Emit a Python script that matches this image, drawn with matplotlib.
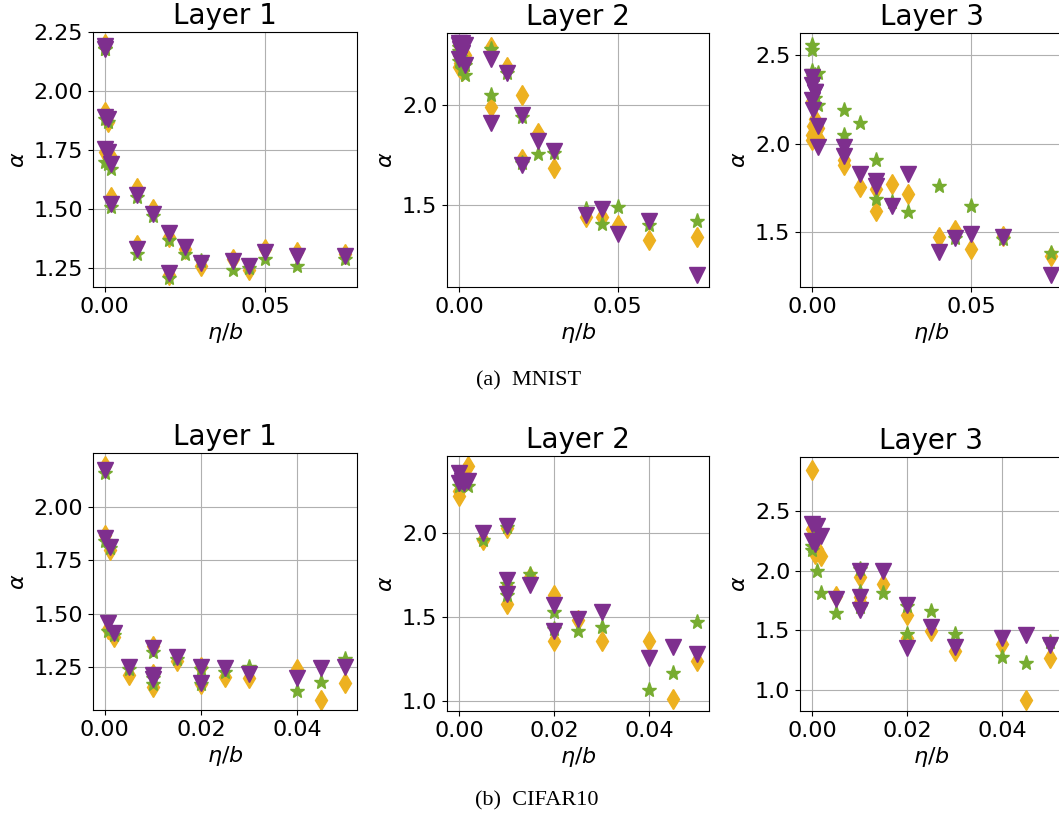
import matplotlib
matplotlib.use('Agg')
import matplotlib.pyplot as plt

# eta/b values of the runs
x_mnist = [0.0, 0.0, 0.0, 0.0002, 0.001, 0.001, 0.002, 0.002,
           0.01, 0.01, 0.015, 0.02, 0.02, 0.025, 0.03, 0.04, 0.045, 0.05, 0.06, 0.075]
x_cifar = [0.0, 0.0, 0.001, 0.0007, 0.002,
           0.005, 0.01, 0.01, 0.01, 0.015, 0.02, 0.02, 0.025, 0.03, 0.04, 0.045, 0.05]

# alpha values, mnist
mnist_l1_dia = [2.20, 1.91, 1.74, 2.19, 1.87, 1.72, 1.72, 1.55,
                1.59, 1.35, 1.50, 1.38, 1.22, 1.33, 1.26, 1.29, 1.24, 1.33, 1.32, 1.31]
mnist_l1_star = [2.18, 1.88, 1.70, 2.18, 1.87, 1.69, 1.67, 1.51,
                 1.55, 1.31, 1.47, 1.37, 1.21, 1.31, 1.28, 1.24, 1.25, 1.29, 1.26, 1.29]
mnist_l1_tri = [2.19, 1.89, 1.755, 2.18, 1.88, 1.74, 1.69, 1.52,
                1.56, 1.33, 1.48, 1.40, 1.23, 1.34, 1.27, 1.28, 1.26, 1.32, 1.30, 1.30]

mnist_l2_dia = [2.30, 2.19, 2.25, 2.21, 2.28, 2.17, 2.25, 2.22,
                2.29, 1.99, 2.19, 2.05, 1.73, 1.86, 1.685, 1.44, 1.44, 1.40, 1.325, 1.34]
mnist_l2_star = [2.29, 2.22, 2.27, 2.24, 2.28, 2.18, 2.20, 2.15,
                 2.28, 2.05, 2.16, 1.94, 1.71, 1.755, 1.76, 1.48, 1.405, 1.49, 1.40, 1.42]
mnist_l2_tri = [2.31, 2.23, 2.30, 2.28, 2.31, 2.26, 2.30, 2.20,
                2.23, 1.91, 2.16, 1.95, 1.70, 1.82, 1.77, 1.45, 1.48, 1.355, 1.42, 1.15]

mnist_l3_dia = [2.24, 2.05, 2.02, 2.10, 2.07, 2.14, 2.09, 2.03,
                1.91, 1.877, 1.755, 1.745, 1.62, 1.77, 1.717, 1.475, 1.51, 1.406, 1.48, 1.368]
mnist_l3_star = [2.56, 2.53, 2.41, 2.38, 2.39, 2.26, 2.40, 2.22,
                 2.19, 2.05, 2.117, 1.906, 1.685, 1.67, 1.613, 1.76, 1.468, 1.647, 1.46, 1.38]
mnist_l3_tri = [2.38, 2.33, 2.25, 2.19, 2.29, 2.29, 2.10, 1.98,
                1.98, 1.93, 1.83, 1.79, 1.76, 1.65, 1.83, 1.387, 1.468, 1.49, 1.475, 1.258]

# alpha values, cifar10
cifar_l1_dia = [2.19, 1.87, 1.80, 1.43, 1.39,
                1.214, 1.35, 1.22, 1.16, 1.28, 1.25, 1.17, 1.206, 1.20, 1.24, 1.097, 1.175]
cifar_l1_star = [2.16, 1.84, 1.81, 1.42, 1.40,
                 1.24, 1.32, 1.20, 1.17, 1.29, 1.24, 1.17, 1.23, 1.253, 1.14, 1.18, 1.29]
cifar_l1_tri = [2.175, 1.855, 1.815, 1.455, 1.41,
                1.25, 1.34, 1.215, 1.195, 1.30, 1.253, 1.175, 1.245, 1.22, 1.198, 1.245, 1.253]

cifar_l2_dia = [2.25, 2.22, 2.36, 2.30, 2.40,
                1.96, 2.03, 1.68, 1.58, 1.74, 1.63, 1.36, 1.48, 1.36, 1.36, 1.01, 1.24]
cifar_l2_star = [2.33, 2.28, 2.30, 2.29, 2.28,
                 1.96, 2.04, 1.70, 1.63, 1.76, 1.53, 1.43, 1.42, 1.44, 1.066, 1.165, 1.47]
cifar_l2_tri = [2.36, 2.30, 2.30, 2.31, 2.31,
                2.00, 2.044, 1.72, 1.64, 1.69, 1.57, 1.42, 1.49, 1.53, 1.255, 1.32, 1.28]

cifar_l3_dia = [2.84, 2.35, 2.18, 2.14, 2.12,
                1.79, 1.944, 1.78, 1.74, 1.89, 1.626, 1.43, 1.494, 1.324, 1.383, 0.913, 1.263]
cifar_l3_star = [2.17, 2.21, 2.00, 2.30, 1.81,
                 1.64, 2.01, 1.82, 1.69, 1.81, 1.70, 1.47, 1.662, 1.464, 1.277, 1.22, 1.40]
cifar_l3_tri = [2.39, 2.25, 2.37, 2.22, 2.29,
                1.765, 2.00, 1.78, 1.67, 2.00, 1.71, 1.347, 1.528, 1.36, 1.43, 1.458, 1.374]

c_dia = '#EDB120'
c_star = '#77AC30'
c_tri = '#7E2F8E'

W, H = 1059, 819
fig = plt.figure(figsize=(W / 100, H / 100), dpi=100)

def add_ax(l, r, t, b):
    # box given in pixels of the picture
    return fig.add_axes([l / W, 1 - b / H, (r - l) / W, (b - t) / H])

def panel(ax, x, dia, star, tri, title, xlim, ylim, xticks, yticks):
    ax.plot(x, dia, marker='d', linestyle='', ms=10, color=c_dia)
    ax.plot(x, star, marker='*', linestyle='', ms=11, color=c_star)
    ax.plot(x, tri, marker='v', linestyle='', ms=12, color=c_tri)
    ax.set_xlim(xlim)
    ax.set_ylim(ylim)
    ax.set_xticks(xticks)
    ax.set_yticks(yticks)
    ax.grid(True)
    ax.set_axisbelow(True)
    ax.tick_params(labelsize=16)
    ax.set_title(title, fontsize=20)
    ax.set_xlabel(r'$\eta/b$', fontsize=16, labelpad=3)
    ax.set_ylabel(r'$\alpha$', fontsize=16)

mx = (-0.00375, 0.07875)
cx = (-0.0025, 0.0525)
mxt = [0.0, 0.05]
cxt = [0.0, 0.02, 0.04]

panel(add_ax(92.7, 357, 32, 287), x_mnist, mnist_l1_dia, mnist_l1_star, mnist_l1_tri,
      'Layer 1', mx, (1.17, 2.25), mxt, [1.25, 1.5, 1.75, 2.0, 2.25])
panel(add_ax(447, 709, 33, 287), x_mnist, mnist_l2_dia, mnist_l2_star, mnist_l2_tri,
      'Layer 2', mx, (1.088, 2.358), mxt, [1.5, 2.0])
panel(add_ax(800, 1063, 33, 287), x_mnist, mnist_l3_dia, mnist_l3_star, mnist_l3_tri,
      'Layer 3', mx, (1.19, 2.626), mxt, [1.5, 2.0, 2.5])

panel(add_ax(92.7, 357, 453, 710), x_cifar, cifar_l1_dia, cifar_l1_star, cifar_l1_tri,
      'Layer 1', cx, (1.05, 2.253), cxt, [1.25, 1.5, 1.75, 2.0])
panel(add_ax(447, 709, 456, 711), x_cifar, cifar_l2_dia, cifar_l2_star, cifar_l2_tri,
      'Layer 2', cx, (0.94, 2.461), cxt, [1.0, 1.5, 2.0])
panel(add_ax(800, 1062, 457, 711), x_cifar, cifar_l3_dia, cifar_l3_star, cifar_l3_tri,
      'Layer 3', cx, (0.821, 2.953), cxt, [1.0, 1.5, 2.0, 2.5])

# subfigure captions
fig.text(529 / W, 1 - 381 / H, '(a)  MNIST', ha='center', va='center',
         fontsize=16, family=['Liberation Serif', 'DejaVu Serif'])
fig.text(537 / W, 1 - 801 / H, '(b)  CIFAR10', ha='center', va='center',
         fontsize=16, family=['Liberation Serif', 'DejaVu Serif'])

fig.savefig('out.png', dpi=100)
